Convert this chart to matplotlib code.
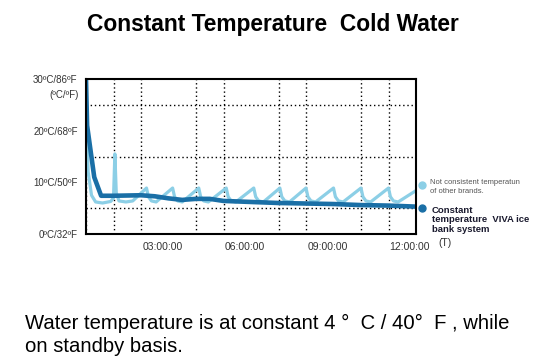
import matplotlib
matplotlib.use("Agg")
import matplotlib.pyplot as plt
from matplotlib.lines import Line2D
import matplotlib.transforms as mtransforms

plt.rcParams['font.family'] = ['Liberation Sans', 'DejaVu Sans']

# ---- data ----
hours_other = [0, 0.08, 0.2, 0.35, 0.6, 0.9, 1.0, 1.05, 1.1, 1.2, 1.45, 1.7,
               2.2, 2.27, 2.38, 2.55,
               3.15, 3.22, 3.33, 3.5,
               4.1, 4.17, 4.28, 4.45,
               5.1, 5.17, 5.28, 5.45,
               6.1, 6.17, 6.28, 6.45,
               7.05, 7.12, 7.23, 7.4,
               8.0, 8.07, 8.18, 8.35,
               9.0, 9.07, 9.18, 9.35,
               10.0, 10.07, 10.18, 10.35,
               11.0, 11.07, 11.18, 11.35,
               12.0]
temp_other = [22, 12, 7.5, 6.2, 6.0, 6.3, 7.0, 15.5, 8.0, 6.4, 6.2, 6.4,
              8.9, 7.2, 6.4, 6.2,
              8.9, 7.2, 6.4, 6.2,
              8.9, 7.2, 6.4, 6.2,
              8.9, 7.2, 6.4, 6.2,
              8.9, 7.2, 6.4, 6.2,
              8.9, 7.2, 6.4, 6.2,
              8.9, 7.2, 6.4, 6.2,
              8.9, 7.2, 6.4, 6.2,
              8.9, 7.2, 6.4, 6.2,
              8.9, 7.2, 6.4, 6.2,
              8.4]

hours_viva = [0, 0.04, 0.3, 0.55, 1.0, 2.0, 2.5, 3.0, 3.5, 4.0, 4.5, 5.0, 6.0,
              7.0, 8.0, 9.0, 10.0, 11.0, 12.0]
temp_viva = [30, 21, 11, 7.4, 7.4, 7.5, 7.3, 6.9, 6.6, 6.8, 6.8, 6.4, 6.2,
             6.0, 5.9, 5.8, 5.6, 5.5, 5.3]

x_tick_pos = [3, 6, 9, 12]
x_tick_labels = ["03:00:00", "06:00:00", "09:00:00", "12:00:00"]
y_tick_pos = [0, 10, 20, 30]
y_tick_labels = ["0ºC/32ºF", "10ºC/50ºF", "20ºC/68ºF", "30ºC/86ºF"]

title = "Constant Temperature  Cold Water"
caption = "Water temperature is at constant 4 °  C / 40°  F , while\non standby basis."
legend_other = "Not consistent temperatun\nof other brands."
legend_viva = "Constant\ntemperature  VIVA ice\nbank system"

light = "#8ccfe6"
dark = "#1a6fa6"

fig = plt.figure(figsize=(5.39, 3.64), dpi=100)
ax = fig.add_axes([86/539, 1-234/364, 330/539, 155/364])

ax.plot(hours_other, temp_other, color=light, lw=2.3, solid_joinstyle='round')
ax.plot(hours_viva, temp_viva, color=dark, lw=3.3, solid_joinstyle='round')

ax.set_xlim(0, 12)
ax.set_ylim(0, 30)
ax.set_xticks(range(0, 13), minor=True)
ax.set_yticks(range(0, 31, 5), minor=True)
ax.grid(which='minor', color='black', linestyle=(0, (1, 2)), linewidth=1.0)
ax.set_axisbelow(True)
ax.set_xticks(x_tick_pos)
ax.set_xticklabels(x_tick_labels, fontsize=7.5, color='#333333')
for lab in ax.get_xticklabels():
    lab.set_horizontalalignment('right')
ax.set_yticks(y_tick_pos)
ax.set_yticklabels(y_tick_labels, fontsize=7, color='#333333')
ax.tick_params(which='both', length=0)
ax.tick_params(axis='x', pad=6)
ax.tick_params(axis='y', pad=6)
for s in ax.spines.values():
    s.set_linewidth(1.5)
    s.set_color('black')

offset = mtransforms.ScaledTranslation(14/100, 0, fig.dpi_scale_trans)
for lab in ax.get_xticklabels():
    lab.set_transform(lab.get_transform() + offset)

fig.text(79/539, 1-95/364, "(ºC/ºF)", fontsize=7, color='#333333', ha='right', va='center')
fig.text(438/539, 1-243/364, "(T)", fontsize=7.5, color='#333333', ha='left', va='center')

fig.text(273/539, 1-24/364, title, fontsize=16.4, fontweight='bold', ha='center', va='center')
fig.text(25/539, 1-335/364, caption, fontsize=14.6, ha='left', va='center', linespacing=1.3)

fig.add_artist(Line2D([422/539], [1-185/364], marker='o', color=light, markersize=5, transform=fig.transFigure))
fig.add_artist(Line2D([422/539], [1-208/364], marker='o', color=dark, markersize=5, transform=fig.transFigure))
fig.text(430/539, 1-187/364, legend_other, fontsize=5.5, color='#555555', ha='left', va='center', linespacing=1.3)
fig.text(432/539, 1-220/364, legend_viva, fontsize=6.8, fontweight='bold', color='#1a1a2e', ha='left', va='center', linespacing=1.12)

fig.savefig("out.png", dpi=100)
